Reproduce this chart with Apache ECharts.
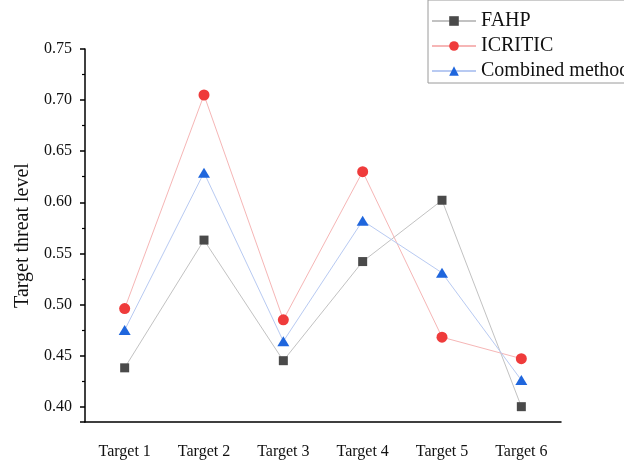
<!DOCTYPE html>
<html>
<head>
<meta charset="utf-8">
<script src="https://cdn.jsdelivr.net/npm/echarts@6/dist/echarts.min.js"></script>
<style>html,body{margin:0;padding:0;background:#fff;}#c{width:624px;height:461px;}</style>
</head>
<body>
<div id="c"></div>
<script>
const categories = ['Target 1', 'Target 2', 'Target 3', 'Target 4', 'Target 5', 'Target 6'];
const fahp = [0.438, 0.563, 0.445, 0.542, 0.602, 0.400];
const icritic = [0.496, 0.705, 0.485, 0.630, 0.468, 0.447];
const combined = [0.475, 0.629, 0.464, 0.582, 0.531, 0.426];
const seriesNames = ['FAHP', 'ICRITIC', 'Combined method'];
const yTitle = 'Target threat level';

const FONT = '"Liberation Serif", "Times New Roman", serif';
const chart = echarts.init(document.getElementById('c'));
chart.setOption({
  animation: false,
  backgroundColor: '#fff',
  grid: { left: 85, right: 63, top: 49, bottom: 39, containLabel: false },
  legend: {
    orient: 'vertical', left: 428, top: 0,
    padding: [11, 10, 2, 3],
    itemWidth: 44, itemHeight: 12, itemGap: 5,
    borderColor: '#9a9a9a', borderWidth: 1,
    textStyle: { fontFamily: FONT, fontSize: 20, color: '#111' },
    data: seriesNames
  },
  xAxis: {
    type: 'category', data: categories, boundaryGap: true,
    axisLine: { lineStyle: { color: '#000', width: 1.5 } },
    axisTick: { alignWithLabel: true, inside: false, length: 4, lineStyle: { color: '#000', width: 1.5 } },
    axisLabel: { fontFamily: FONT, fontSize: 16, color: '#111', margin: 22 },
    splitLine: { show: false }
  },
  yAxis: {
    type: 'value', min: 0.385, max: 0.75, splitNumber: 7,
    name: yTitle, nameLocation: 'middle', nameGap: 50,
    nameTextStyle: { fontFamily: FONT, fontSize: 20, color: '#111' },
    axisLine: { show: true, lineStyle: { color: '#000', width: 1.5 } },
    axisTick: { show: true, inside: false, length: 5, lineStyle: { color: '#000', width: 1.5 } },
    minorTick: { show: true, splitNumber: 2, length: 3, lineStyle: { color: '#000', width: 1.2 } },
    axisLabel: { fontFamily: FONT, fontSize: 16, color: '#111', margin: 13, showMinLabel: false,
      formatter: v => v.toFixed(2) },
    splitLine: { show: false }
  },
  series: [
    { name: seriesNames[0], type: 'line', data: fahp, symbol: 'rect', symbolSize: 9,
      lineStyle: { color: '#c2c2c2', width: 1 }, itemStyle: { color: '#4a4a4a' } },
    { name: seriesNames[1], type: 'line', data: icritic, symbol: 'circle', symbolSize: 11,
      lineStyle: { color: '#f6b6b6', width: 1 }, itemStyle: { color: '#ef3b3b' } },
    { name: seriesNames[2], type: 'line', data: combined, symbol: 'triangle', symbolSize: [12, 10],
      lineStyle: { color: '#b8caf2', width: 1 }, itemStyle: { color: '#1f66dd' } }
  ]
});
</script>
</body>
</html>
